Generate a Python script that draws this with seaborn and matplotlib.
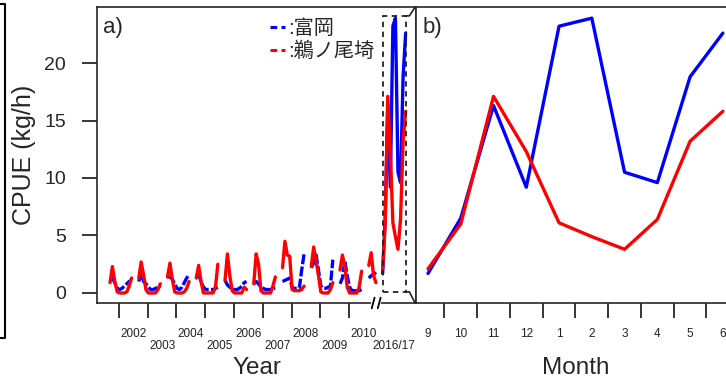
import numpy as np
import pandas as pd
import matplotlib
matplotlib.use("Agg")
import matplotlib.pyplot as plt
import matplotlib.transforms as mtransforms
from matplotlib.lines import Line2D
from matplotlib.patches import Rectangle
import seaborn as sns

# ---------------- data ----------------
site_names = ["富岡", "鵜ノ尾埼"]
season_start = [2001, 2002, 2003, 2004, 2005, 2006, 2007, 2008, 2009, 2010]
season_months = [9, 10, 11, 12, 1, 2, 3, 4, 5, 6]
month_labels = ["9", "10", "11", "12", "1", "2", "3", "4", "5", "6"]

tomioka_hist = [
    [1.2, 1.3, 0.9, 0.4, 0.3, 0.4, 0.6, 0.8, 1.0, 1.1],
    [1.0, 1.7, 1.0, 0.8, 0.5, 0.3, 0.3, 0.4, 0.5, 0.6],
    [1.4, 1.4, 1.2, 0.8, 0.4, 0.3, 0.5, 0.9, 1.3, 1.6],
    [1.5, 1.6, 1.0, 0.5, 0.3, 0.3, 0.3, 0.3, 0.4, 0.5],
    [1.1, 0.7, 0.5, 0.3, 0.3, 0.3, 0.4, 0.6, 0.9, 1.0],
    [0.8, 1.0, 0.8, 0.5, 0.4, 0.3, 0.3, 0.3, 0.4, 0.4],
    [1.0, 1.1, 1.2, 1.3, 0.5, 0.4, 0.4, 0.4, 2.0, 3.4],
    [2.2, 2.6, 3.3, 2.0, 0.6, 0.4, 0.4, 0.5, 0.6, 2.9],
    [0.8, 1.3, 2.8, 1.5, 0.5, 0.2, 0.2, 0.2, 0.2, 0.3],
    [1.3, 1.5, 1.6, 1.8],
]
unoozaki_hist = [
    [0.9, 2.3, 1.0, 0.1, 0.0, 0.0, 0.0, 0.1, 0.6, 1.3],
    [1.3, 2.7, 1.6, 0.3, 0.0, 0.0, 0.0, 0.0, 0.3, 0.8],
    [1.4, 2.6, 1.2, 0.1, 0.0, 0.0, 0.0, 0.1, 0.4, 1.0],
    [1.3, 2.4, 1.0, 0.0, 0.0, 0.0, 0.0, 0.0, 0.5, 2.5],
    [1.1, 3.4, 1.5, 0.2, 0.0, 0.0, 0.0, 0.0, 0.5, 0.3],
    [0.8, 3.4, 2.5, 0.2, 0.0, 0.0, 0.0, 0.0, 0.6, 1.4],
    [2.2, 4.5, 3.3, 3.2, 0.3, 0.2, 0.2, 0.2, 0.3, 0.6],
    [2.3, 4.0, 2.8, 1.5, 0.1, 0.0, 0.0, 0.0, 0.3, 0.9],
    [2.0, 3.3, 2.3, 0.5, 0.0, 0.0, 0.0, 0.0, 0.5, 1.9],
    [2.4, 3.5, 1.5, 0.9],
]
tomioka_1617 = [1.7, 6.5, 16.3, 9.2, 23.2, 23.9, 10.5, 9.6, 18.8, 22.6]
unoozaki_1617 = [2.1, 6.0, 17.1, 12.3, 6.1, 4.9, 3.8, 6.4, 13.2, 15.8]

year_labels = ["2002", "2003", "2004", "2005", "2006", "2007", "2008", "2009", "2010"]
recent_label = "2016/17"

# ---------------- build tables ----------------
rows = []
for site, table in zip(site_names, [tomioka_hist, unoozaki_hist]):
    for s, vals in zip(season_start, table):
        for m, v in zip(season_months, vals):
            yr = s if m >= 9 else s + 1
            rows.append({"site": site, "season": s, "x": yr + (m - 0.75) / 12, "cpue": v})
hist = pd.DataFrame(rows)

# compressed inset for 2016/17 on the broken axis (layout positions)
inset_start, inset_step = 2011.17, 0.0889
recent = pd.DataFrame({
    "site": [site_names[0]] * len(tomioka_1617) + [site_names[1]] * len(unoozaki_1617),
    "idx": list(range(len(tomioka_1617))) + list(range(len(unoozaki_1617))),
    "cpue": tomioka_1617 + unoozaki_1617,
})
recent["x"] = inset_start + recent["idx"] * inset_step

colors = {site_names[0]: "#0000FF", site_names[1]: "#FF0000"}

# ---------------- style ----------------
sns.set_style("ticks")
plt.rcParams["font.family"] = ["Liberation Sans", "Noto Sans CJK JP", "DejaVu Sans"]
plt.rcParams["axes.linewidth"] = 1.2

W, H = 726, 381
fig = plt.figure(figsize=(W / 100, H / 100), dpi=100)

def px_box(l, t, r, b):
    return [l / W, 1 - b / H, (r - l) / W, (b - t) / H]

ax_a = fig.add_axes(px_box(97, 7, 416, 303))
ax_b = fig.add_axes(px_box(416, 7, 735, 303))

ylim = (-0.87, 24.87)

# ---------------- panel a ----------------
sns.lineplot(data=hist[hist.site == site_names[0]], x="x", y="cpue", units="season",
             estimator=None, sort=False, color=colors[site_names[0]], lw=2.4,
             linestyle=(0, (3.0, 0.7)), ax=ax_a, legend=False)
sns.lineplot(data=hist[hist.site == site_names[1]], x="x", y="cpue", units="season",
             estimator=None, sort=False, color=colors[site_names[1]], lw=2.4,
             ax=ax_a, legend=False)
for site in site_names:
    sns.lineplot(data=recent[recent.site == site], x="x", y="cpue", estimator=None,
                 sort=False, color=colors[site], lw=2.4, ax=ax_a, legend=False)

ax_a.set_xlim(2001.235, 2012.33)
ax_a.set_ylim(*ylim)
ax_a.set_yticks([0, 5, 10, 15, 20])
ax_a.tick_params(axis="y", length=10.8, width=1.3, pad=11.5, labelsize=14, direction="out")

years = [int(y) for y in year_labels]
ax_a.set_xticks(years)
ax_a.set_xticklabels([])
inset_center = inset_start + inset_step * (len(tomioka_1617) - 1) / 2

# row 1 of year labels (even positions) on the main axis
row1_pos = [y + 0.5 for y in years[0::2]]
row1_lab = year_labels[0::2]
ax_a.set_xticks(row1_pos, minor=True)
ax_a.set_xticklabels(row1_lab, minor=True)
ax_a.tick_params(axis="x", which="major", length=10.8, width=1.3, direction="out")
ax_a.tick_params(axis="x", which="minor", length=0, pad=18, labelsize=8.5, labelcolor="#222222")

# row 2 of year labels on a secondary axis
sec = ax_a.secondary_xaxis("bottom")
row2_pos = [y + 0.5 for y in years[1::2]] + [inset_center]
row2_lab = year_labels[1::2] + [recent_label]
sec.set_xticks(row2_pos)
sec.set_xticklabels(row2_lab)
sec.tick_params(axis="x", length=0, pad=26.5, labelsize=8.5, labelcolor="#222222")
sec.spines["bottom"].set_visible(False)

ax_a.set_xlabel("Year", fontsize=17.5)
ax_a.xaxis.set_label_coords(0.5, -0.182)
ax_a.set_ylabel("CPUE (kg/h)", fontsize=18)
ax_a.yaxis.set_label_coords(-0.19, 0.5)
ax_a.text(0.02, 0.965, "a)", transform=ax_a.transAxes, fontsize=16, va="top", ha="left")

# dashed box around 2016/17
box_l = inset_start
box_r = inset_start + inset_step * (len(tomioka_1617) - 1)
box_b, box_t = 0.1, 24.1
ax_a.add_patch(Rectangle((box_l, box_b), box_r - box_l, box_t - box_b, fill=False,
                         ec="#222222", lw=1.3, ls=(0, (3, 2.5)), zorder=4))
# connectors to panel b
ax_a.plot([box_r, box_r + 0.13, 2012.3], [box_t, box_t, ylim[1]], color="#222222",
          lw=1.2, clip_on=False, zorder=4)
ax_a.plot([box_r, box_r + 0.13, 2012.3], [box_b, box_b, ylim[0]], color="#222222",
          lw=1.2, clip_on=False, zorder=4)

# axis break marks
trans = mtransforms.blended_transform_factory(ax_a.transData, ax_a.transAxes)
brk = [2010.84, 2011.05]
ax_a.plot(brk, [0, 0], color="white", lw=3, transform=trans, clip_on=False, zorder=5)
for bx in brk:
    ax_a.plot([bx - 0.05, bx + 0.05], [-0.018, 0.018], color="black", lw=1.3,
              transform=trans, clip_on=False, zorder=6)

handles = [Line2D([], [], color=colors[s], lw=2.2, ls=(0, (2.2, 1.4))) for s in site_names]
ax_a.legend(handles, [":" + s for s in site_names], loc="upper left",
            bbox_to_anchor=(0.541, 0.958), frameon=False, fontsize=14.5,
            handlelength=0.75, handletextpad=0.15, labelspacing=0.15,
            borderpad=0, borderaxespad=0)

# ---------------- panel b ----------------
for site, vals in zip(site_names, [tomioka_1617, unoozaki_1617]):
    dfb = pd.DataFrame({"idx": range(len(vals)), "cpue": vals})
    sns.lineplot(data=dfb, x="idx", y="cpue", estimator=None, sort=False,
                 color=colors[site], lw=2.4, ax=ax_b, legend=False)
ax_b.set_xlim(-0.366, 9.37)
ax_b.set_ylim(*ylim)
ax_b.tick_params(axis="y", left=False, labelleft=False)
ax_b.set_xticks(np.arange(len(month_labels) - 1) + 0.5)
ax_b.set_xticklabels([])
ax_b.set_xticks(np.arange(len(month_labels)), minor=True)
ax_b.set_xticklabels(month_labels, minor=True)
ax_b.tick_params(axis="x", which="major", length=10.8, width=1.3, direction="out")
ax_b.tick_params(axis="x", which="minor", length=0, pad=18, labelsize=8.5, labelcolor="#222222")
ax_b.set_xlabel("Month", fontsize=17.5)
ax_b.xaxis.set_label_coords(0.5, -0.182)
ax_b.set_ylabel("")
ax_b.text(0.022, 0.965, "b)", transform=ax_b.transAxes, fontsize=16, va="top", ha="left")

# cropped outer frame at left edge
fig.add_artist(Line2D([0, 5 / W, 5 / W, 0], [1 - 4 / H, 1 - 4 / H, 1 - 338 / H, 1 - 338 / H],
                      color="black", lw=1.5, transform=fig.transFigure))

fig.savefig("out.png", dpi=100)
